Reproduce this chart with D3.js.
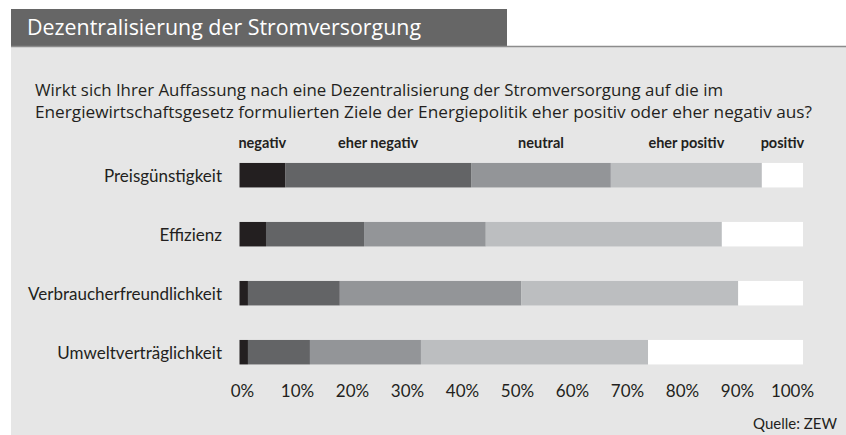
<!DOCTYPE html>
<html>
<head>
<meta charset="utf-8">
<script src="https://cdn.jsdelivr.net/npm/d3@7"></script>
<style>
  body { margin: 0; background: #fff; }
  text { fill: #231f20; }
</style>
</head>
<body>
<svg class="chart"></svg>
<script>
// Anteile in Prozent, je Ziel (Reihenfolge wie categories)
var categories = ["Preisgünstigkeit", "Effizienz", "Verbraucherfreundlichkeit", "Umweltverträglichkeit"];
var answers = ["negativ", "eher negativ", "neutral", "eher positiv", "positiv"];
var negativ     = [8.1, 4.7, 1.5, 1.5];
var eherNegativ = [33.0, 17.4, 16.3, 11.0];
var neutral     = [24.8, 21.6, 32.2, 19.7];
var eherPositiv = [26.8, 41.9, 38.5, 40.3];
var positiv     = [7.3, 14.4, 11.5, 27.5];
var tickValues  = [0, 10, 20, 30, 40, 50, 60, 70, 80, 90, 100];

var title = "Dezentralisierung der Stromversorgung";
var question = [
    "Wirkt sich Ihrer Auffassung nach eine Dezentralisierung der Stromversorgung auf die im",
    "Energiewirtschaftsgesetz formulierten Ziele der Energiepolitik eher positiv oder eher negativ aus?"
];
var source = "Quelle: ZEW";

(function show() {
    'use strict';

    var width = 846, height = 435;
    var colors = d3.scaleOrdinal()
        .domain(answers)
        .range(["#231f20", "#636466", "#939598", "#bcbec0", "#ffffff"]);

    var table = categories.map(function(c, i) {
        return {
            category: c,
            "negativ": negativ[i],
            "eher negativ": eherNegativ[i],
            "neutral": neutral[i],
            "eher positiv": eherPositiv[i],
            "positiv": positiv[i]
        };
    });
    var series = d3.stack().keys(answers)(table);

    var svg = d3.select(".chart")
        .attr("width", width)
        .attr("height", height);

    // Hintergrund und Titelbalken
    svg.append("rect")
        .attr("x", 11).attr("y", 46)
        .attr("width", width - 11).attr("height", height - 46)
        .attr("fill", "#e6e6e6");
    svg.append("rect")
        .attr("x", 11).attr("y", 9)
        .attr("width", 496).attr("height", 37)
        .attr("fill", "#666666");
    svg.append("line")
        .attr("x1", 11).attr("x2", width)
        .attr("y1", 46.5).attr("y2", 46.5)
        .attr("stroke", "#8c8c8c").attr("stroke-width", 1.5);
    svg.append("text")
        .attr("x", 27).attr("y", 35)
        .attr("textLength", 394).attr("lengthAdjust", "spacingAndGlyphs")
        .style("font-family", "'Open Sans', sans-serif")
        .style("font-size", "22px")
        .style("fill", "#fff")
        .text(title);

    svg.selectAll(".question")
        .data(question)
        .enter().append("text")
        .attr("class", "question")
        .attr("x", 35)
        .attr("y", function(d, i) { return 96 + i * 22; })
        .attr("textLength", function(d, i) { return i === 0 ? 688 : 777; })
        .attr("lengthAdjust", "spacingAndGlyphs")
        .style("font-family", "'Open Sans', sans-serif")
        .style("font-size", "16px")
        .text(function(d) { return d; });

    var x = d3.scaleLinear().domain([0, 100]).range([239.5, 803]);
    var y = d3.scaleBand()
        .domain(categories)
        .range([145.7, 381.7])
        .paddingInner(0.585)
        .paddingOuter(0.2925);

    // Balken
    var groups = svg.append("g").selectAll("g")
        .data(series)
        .enter().append("g")
        .attr("fill", function(d) { return colors(d.key); });
    groups.selectAll("rect")
        .data(function(d) { return d; })
        .enter().append("rect")
        .attr("x", function(d) { return x(d[0]); })
        .attr("width", function(d) { return x(d[1]) - x(d[0]); })
        .attr("y", function(d) { return y(d.data.category); })
        .attr("height", y.bandwidth());

    // Kopfzeile ueber dem ersten Balken
    svg.selectAll(".head")
        .data(series)
        .enter().append("text")
        .attr("class", "head")
        .attr("x", function(d) { return x((d[0][0] + d[0][1]) / 2); })
        .attr("y", 148)
        .attr("text-anchor", "middle")
        .style("font-family", "Lato, sans-serif")
        .style("font-weight", "bold")
        .style("font-size", "14.5px")
        .text(function(d) { return d.key; });

    // Kategorien
    var yAxis = svg.append("g")
        .attr("transform", "translate(222,0)")
        .call(d3.axisLeft(y).tickSize(0).tickPadding(0));
    yAxis.select(".domain").remove();
    yAxis.selectAll("text")
        .attr("dy", "0.42em")
        .style("font-family", "Lato, sans-serif")
        .style("font-size", "17px");

    // Prozentachse (Beschriftung leicht gestaucht wie im Original)
    var xTicks = x.copy().range([242, 792]);
    var xAxis = svg.append("g")
        .attr("transform", "translate(0,380)")
        .call(d3.axisBottom(xTicks)
            .tickValues(tickValues)
            .tickSize(0)
            .tickPadding(0)
            .tickFormat(function(d) { return d + "%"; }));
    xAxis.select(".domain").remove();
    xAxis.selectAll("text")
        .attr("dy", null)
        .attr("y", 17)
        .style("font-family", "Lato, sans-serif")
        .style("font-size", "17px");

    svg.append("text")
        .attr("x", 837).attr("y", 429)
        .attr("text-anchor", "end")
        .style("font-family", "Lato, sans-serif")
        .style("font-size", "15px")
        .text(source);
})();
</script>
</body>
</html>
